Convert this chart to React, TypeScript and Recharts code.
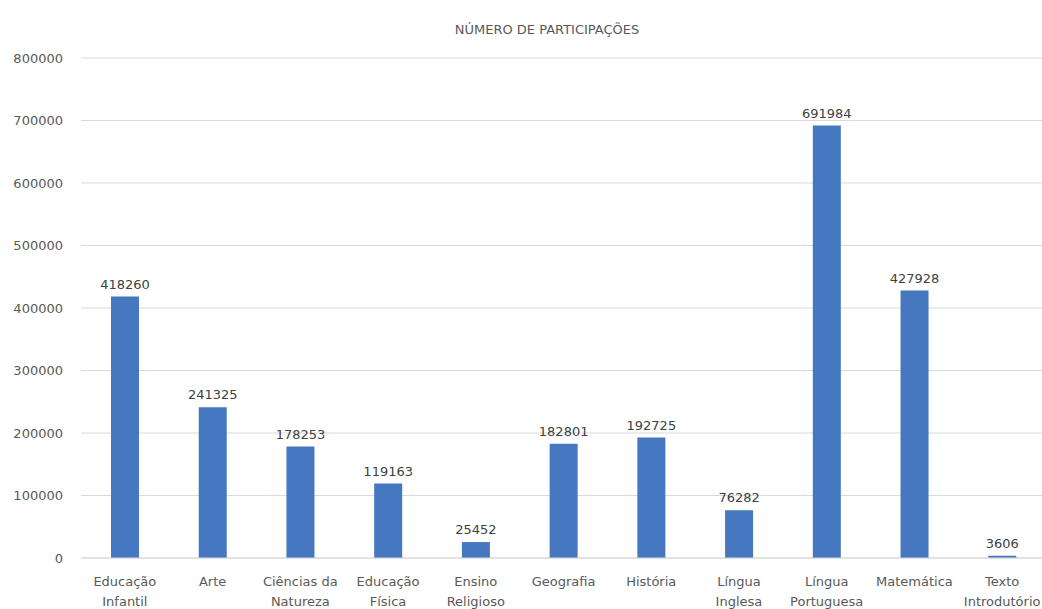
import React from "react";
import { BarChart, Bar, XAxis, YAxis, CartesianGrid, LabelList } from "recharts";

const categories: string[] = [
  "Educação Infantil",
  "Arte",
  "Ciências da Natureza",
  "Educação Física",
  "Ensino Religioso",
  "Geografia",
  "História",
  "Língua Inglesa",
  "Língua Portuguesa",
  "Matemática",
  "Texto Introdutório",
];

const participacoes: number[] = [
  418260, 241325, 178253, 119163, 25452, 182801, 192725, 76282, 691984, 427928, 3606,
];

const yTicks: number[] = [0, 100000, 200000, 300000, 400000, 500000, 600000, 700000, 800000];

const title = "NÚMERO DE PARTICIPAÇÕES";

const data = categories.map((c, i) => ({ name: c, value: participacoes[i] }));

const FONT = "'DejaVu Sans', sans-serif";

const CategoryTick = (props: any) => {
  const { x, y, payload } = props;
  const text: string = payload.value;
  const idx = text.lastIndexOf(" ");
  const lines = idx > 0 ? [text.slice(0, idx), text.slice(idx + 1)] : [text];
  return (
    <g>
      {lines.map((l, i) => (
        <text
          key={i}
          x={x}
          y={y + 20 + i * 20}
          textAnchor="middle"
          fill="#595959"
          fontSize={13}
          fontFamily={FONT}
        >
          {l}
        </text>
      ))}
    </g>
  );
};

export default function App() {
  return (
    <div
      style={{
        position: "absolute",
        left: 0,
        top: 0,
        width: 1042,
        height: 609,
        overflow: "hidden",
        background: "#ffffff",
      }}
    >
      <div
        style={{
          position: "absolute",
          left: 347,
          top: 21,
          width: 400,
          textAlign: "center",
          fontFamily: FONT,
          fontSize: 13,
          color: "#595959",
          lineHeight: "18px",
          whiteSpace: "nowrap",
        }}
      >
        {title}
      </div>
      <BarChart
        width={1046}
        height={609}
        data={data}
        margin={{ top: 58, right: 0, bottom: 0, left: 0 }}
        barSize={28}
      >
        <CartesianGrid vertical={false} stroke="#d9d9d9" strokeWidth={1} />
        <XAxis
          dataKey="name"
          interval={0}
          height={51}
          tickLine={false}
          axisLine={{ stroke: "#d9d9d9" }}
          tick={<CategoryTick />}
        />
        <YAxis
          width={81}
          domain={[0, 800000]}
          ticks={yTicks}
          interval={0}
          tickLine={false}
          axisLine={false}
          tickSize={0}
          tickMargin={18}
          tick={{ fill: "#595959", fontSize: 13, fontFamily: FONT }}
        />
        <Bar dataKey="value" fill="#4677C1" isAnimationActive={false}>
          <LabelList
            dataKey="value"
            position="top"
            offset={8}
            fill="#404040"
            fontSize={13}
            fontFamily={FONT}
          />
        </Bar>
      </BarChart>
    </div>
  );
}
